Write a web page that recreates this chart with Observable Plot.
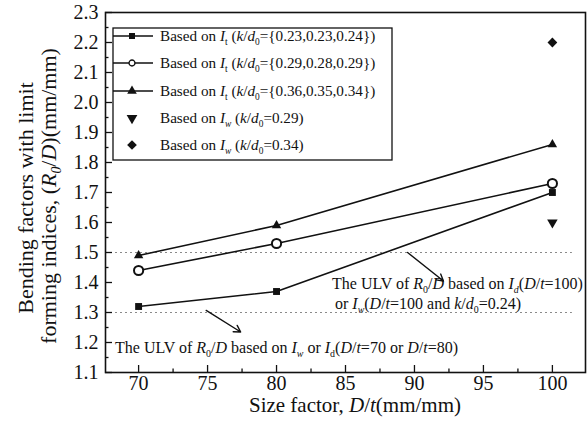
<!DOCTYPE html>
<html><head><meta charset="utf-8">
<script src="https://cdn.jsdelivr.net/npm/d3@7"></script>
<script src="https://cdn.jsdelivr.net/npm/@observablehq/plot@0.6"></script>
<style>
body{margin:0;background:#fff}
svg, svg text{font-family:"Liberation Serif",serif !important}
</style>
</head><body><div id="chart"></div>
<script>
// ---- data ----
const sizeFactors = [70, 80, 100];
const itLow  = [1.32, 1.37, 1.70];   // k/d0 = {0.23,0.23,0.24}
const itMid  = [1.44, 1.53, 1.73];   // k/d0 = {0.29,0.28,0.29}
const itHigh = [1.49, 1.59, 1.86];   // k/d0 = {0.36,0.35,0.34}
const iwSize = [100];
const iw029  = [1.60];
const iw034  = [2.20];
const ulvLevels = [1.5, 1.3];
const xTicks = [70, 75, 80, 85, 90, 95, 100];
const xMinor = [72.5, 77.5, 82.5, 87.5, 92.5, 97.5];
const yTicks = [1.1,1.2,1.3,1.4,1.5,1.6,1.7,1.8,1.9,2.0,2.1,2.2,2.3];
const yMinor = [1.15,1.25,1.35,1.45,1.55,1.65,1.75,1.85,1.95,2.05,2.15,2.25];
const legendLabels = [
  "Based on *I*_t_ (*k*/*d*_0_={0.23,0.23,0.24})",
  "Based on *I*_t_ (*k*/*d*_0_={0.29,0.28,0.29})",
  "Based on *I*_t_ (*k*/*d*_0_={0.36,0.35,0.34})",
  "Based on *I*~w~ (*k*/*d*_0_=0.29)",
  "Based on *I*~w~ (*k*/*d*_0_=0.34)"
];
const noteUpper = ["The ULV of *R*_0_/*D* based on *I*~d~(*D*/*t*=100)", "or *I*~w~(*D*/*t*=100 and *k*/*d*_0_=0.24)"];
const noteLower = "The ULV of *R*_0_/*D* based on *I*~w~ or *I*_d_(*D*/*t*=70 or *D*/*t*=80)";
const xTitle = "Size factor, *D*/*t*(mm/mm)";
const yTitle = ["Bending factors with limit", "forming indices, (*R*~0~/*D*)(mm/mm)"];
// annotation arrows (data coordinates): [x1, y1, x2, y2]
const arrowUpper = [89.5, 1.50, 92.1, 1.405];
const arrowLower = [74.9, 1.307, 77.4, 1.235];
const ulvExtent = [67.6, 101.45];

const FONT = '"Liberation Serif", serif';

// ---- tables ----
const mk = (vals, key) => sizeFactors.map((x, i) => ({x, y: vals[i], s: key}));
const rowsLow = mk(itLow, "low"), rowsMid = mk(itMid, "mid"), rowsHigh = mk(itHigh, "high");
const rowsIw029 = iwSize.map((x, i) => ({x, y: iw029[i]}));
const rowsIw034 = iwSize.map((x, i) => ({x, y: iw034[i]}));
const arrows = [arrowUpper, arrowLower].map(([x1, y1, x2, y2]) => ({x1, y1, x2, y2}));
const ulvRows = ulvLevels.map(y => ({y, x1: ulvExtent[0], x2: ulvExtent[1]}));

const chart = Plot.plot({
  width: 587, height: 425,
  marginLeft: 105, marginRight: 2, marginTop: 12, marginBottom: 53,
  style: {fontFamily: FONT, fontSize: "20px", color: "#111", background: "#fff"},
  x: {domain: [67.6, 102.4]},
  y: {domain: [1.1, 2.3]},
  marks: [
    Plot.ruleY(ulvRows, {y: "y", x1: "x1", x2: "x2", stroke: "#8a8a8a", strokeDasharray: "2,3", strokeWidth: 1.1}),
    Plot.axisX({ticks: xTicks, tickSize: -7, tickPadding: 10, tickFormat: d => d, label: null, strokeWidth: 1.3, fontSize: 20}),
    Plot.axisX({ticks: xMinor, tickSize: -3.5, tickFormat: () => "", label: null, strokeWidth: 1.3}),
    Plot.axisY({ticks: yTicks, tickSize: -7, tickPadding: 14, tickFormat: d3.format(".1f"), label: null, strokeWidth: 1.3, fontSize: 20}),
    Plot.axisY({ticks: yMinor, tickSize: -3.5, tickFormat: () => "", label: null, strokeWidth: 1.3}),
    Plot.frame({stroke: "#111", strokeWidth: 1.6}),
    Plot.line(rowsLow, {x: "x", y: "y", stroke: "#111", strokeWidth: 1.6}),
    Plot.line(rowsMid, {x: "x", y: "y", stroke: "#111", strokeWidth: 1.6}),
    Plot.line(rowsHigh, {x: "x", y: "y", stroke: "#111", strokeWidth: 1.6}),
    Plot.dot(rowsLow, {x: "x", y: "y", symbol: "square", r: 3.9, fill: "#111"}),
    Plot.dot(rowsMid, {x: "x", y: "y", symbol: "circle", r: 4.6, fill: "#fff", stroke: "#111", strokeWidth: 2}),
    Plot.dot(rowsHigh, {x: "x", y: "y", symbol: "triangle", r: 3.5, fill: "#111"}),
    Plot.dot(rowsIw029, {x: "x", y: "y", symbol: "triangle", rotate: 180, r: 3.9, fill: "#111"}),
    Plot.dot(rowsIw034, {x: "x", y: "y", symbol: "diamond2", r: 4.4, fill: "#111"}),
    Plot.arrow(arrows, {x1: "x1", y1: "y1", x2: "x2", y2: "y2", stroke: "#111", strokeWidth: 1.4, headLength: 8})
  ]
});
document.getElementById("chart").append(chart);

// ---- rich text helpers (subscripts / italics) ----
const svg = d3.select(chart);
function rich(g, str, x, y, size, anchor = "start", transform = null) {
  const t = g.append("text").attr("x", x).attr("y", y).attr("font-size", size)
    .attr("font-family", FONT).attr("fill", "#111").attr("text-anchor", anchor);
  if (transform) t.attr("transform", transform);
  const parts = str.split(/(\*[^*]+\*|_[^_]+_|~[^~]+~)/).filter(s => s.length);
  let shifted = false;
  for (const p of parts) {
    let txt = p, italic = false, sub = false;
    if (p[0] === "*") { txt = p.slice(1, -1); italic = true; }
    else if (p[0] === "_") { txt = p.slice(1, -1); sub = true; }
    else if (p[0] === "~") { txt = p.slice(1, -1); sub = true; italic = true; }
    const ts = t.append("tspan").text(txt);
    if (italic) ts.attr("font-style", "italic");
    if (sub) { ts.attr("font-size", size * 0.62); if (!shifted) { ts.attr("dy", size * 0.25); shifted = true; } }
    else if (shifted) { ts.attr("dy", -size * 0.25); shifted = false; }
  }
  return t;
}
const g = svg.append("g");

// axis titles
rich(g, xTitle, 355, 405 + 7, 21, "middle");
rich(g, yTitle[0], 0, 0, 22, "middle", `translate(${25 + 7.7},198) rotate(-90)`);
rich(g, yTitle[1], 0, 0, 22, "middle", `translate(${48 + 7.7},196) rotate(-90)`);

// annotations
rich(g, noteUpper[0], 332, 283 + 5.5, 16);
rich(g, noteUpper[1], 335, 303 + 5.5, 16);
rich(g, noteLower, 115, 347 + 5.5, 16);

// legend
const lg = svg.append("g");
lg.append("rect").attr("x", 113).attr("y", 28).attr("width", 279).attr("height", 132)
  .attr("fill", "#fff").attr("stroke", "#111").attr("stroke-width", 1.3);
const legendSymbols = [
  {sym: d3.symbolSquare, size: 36, fill: "#111", line: true},
  {sym: d3.symbolCircle, size: 28, fill: "#fff", stroke: "#111", line: true},
  {sym: d3.symbolTriangle, size: 40, fill: "#111", line: true},
  {sym: d3.symbolTriangle, size: 50, fill: "#111", rot: 180},
  {sym: d3.symbolDiamond2, size: 60, fill: "#111"}
];
const rowY = [36, 63, 91, 118, 145];
legendLabels.forEach((lab, i) => {
  const s = legendSymbols[i], cy = rowY[i];
  if (s.line) lg.append("line").attr("x1", 113).attr("x2", 153).attr("y1", cy).attr("y2", cy).attr("stroke", "#111").attr("stroke-width", 1.4);
  lg.append("path").attr("d", d3.symbol(s.sym, s.size)())
    .attr("transform", `translate(132,${cy})` + (s.rot ? ` rotate(${s.rot})` : ""))
    .attr("fill", s.fill).attr("stroke", s.stroke || "none").attr("stroke-width", 1.3);
  rich(lg, lab, 160, cy + 5.2, 15.2);
});
svg.selectAll("text").attr("font-family", FONT);
</script>
</body></html>
